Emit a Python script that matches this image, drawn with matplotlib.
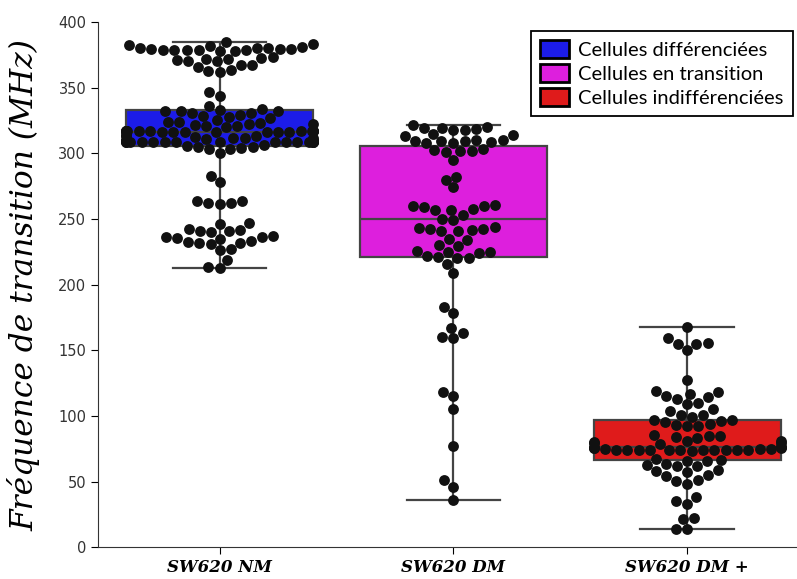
import numpy as np
import pandas as pd
import matplotlib
matplotlib.use("Agg")
import matplotlib.pyplot as plt
import seaborn as sns
from matplotlib.patches import Patch

# values (MHz)
nm_values = [385, 383, 382, 382.5, 381,
             379.5, 379, 378.5, 380, 378, 379, 380, 378.5, 379.5, 380.5, 379, 379.8, 378.2,
             373, 372, 371.5, 371, 370, 372.5, 370.5,
             367, 366, 367.5, 363, 362, 363.5,
             347, 344, 336,
             333, 332, 333.5, 331, 332.5, 330.5, 332,
             328, 327, 329, 328.5,
             325, 324, 323.5, 323, 322.5, 322, 321.5, 321, 320.5, 320,
             317, 316.8, 316.5, 316.6, 316.9, 316.4, 316.7, 317.2, 316.3, 316.8,
             316.5, 317.1, 316.2, 316.6, 316.9, 316.4, 316.7, 316.5, 316.8, 316.6,
             314, 313.5, 313, 312.5, 312, 311.8, 311.5, 311, 310.5, 310.2,
             309, 308.8, 308.6, 308.9, 309.2, 308.7, 308.5, 308.9, 309.1, 308.6,
             308.8, 308.4, 309.3, 308.7, 308.9, 308.5, 309, 308.6, 308.8, 308.7,
             306, 305.5, 305, 304.5, 304, 303.5, 303,
             300, 283, 278,
             264, 262, 261, 262.5, 263.5, 247, 246,
             241, 240, 241.5, 240.5, 242, 236, 236.5, 235, 237, 235.5,
             232, 231, 232.5, 231.5, 233,
             227, 226, 219, 213, 213.5]

dm_values = [321.5, 319, 318.5, 319.5, 320, 318, 317.5,
             314, 313.5, 314.5, 309, 308.5, 309.5, 310, 308, 307.5, 310.5, 309.2,
             302, 301.5, 302.5, 301, 303, 295, 282, 280, 274,
             260, 259.5, 260.5, 259, 257, 256.5, 257.5, 253, 250, 249,
             243, 242.5, 243.5, 242, 241, 240.5, 241.5, 235, 234, 230, 229.5,
             225, 224.5, 225.5, 224, 221, 220.5, 221.5, 220,
             216, 209, 183, 178, 167, 163, 160, 159, 118, 115, 105, 77, 51, 46, 36]

dmp_values = [168, 159, 155, 154.5, 155.5, 150, 127,
              119, 118, 117, 115, 114, 113, 110, 109, 105, 104,
              101, 100.5, 99.5, 97, 96.5, 96, 95.5, 93, 92.5, 93.5, 92,
              85, 84.5, 85.5, 84, 83.5, 80, 79.5, 80.5, 79, 81, 78.5,
              76, 75.5, 76.5, 75, 74.5, 75.8, 74.8, 75.2, 76.2, 74.2,
              74, 73.8, 74.1, 73.9, 74.2, 73.7, 74, 73.8, 74.3, 73.6, 74.1,
              67, 66, 65.5, 66.5, 63, 62, 61.5, 62.5,
              58, 57.5, 58.5, 55, 54.5, 51, 50.5, 48, 38, 35, 33, 22, 21.5, 14, 13.8]

groups = ["SW620 NM", "SW620 DM", "SW620 DM +"]
legend_labels = ["Cellules différenciées", "Cellules en transition", "Cellules indifférenciées"]
colors = ["#1c1ce8", "#dd1fdd", "#df1b1b"]

df = pd.DataFrame({
    "groupe": [groups[0]] * len(nm_values) + [groups[1]] * len(dm_values) + [groups[2]] * len(dmp_values),
    "freq": nm_values + dm_values + dmp_values,
})

fig = plt.figure(figsize=(7.97, 5.79), dpi=100)
ax = fig.add_axes([0.123, 0.055, 0.877, 0.907])

sns.boxplot(data=df, x="groupe", y="freq", hue="groupe", palette=colors, order=groups,
            saturation=1, width=0.8, whis=np.inf, linewidth=1.6, linecolor="#444444",
            showfliers=False, legend=False, ax=ax)
sns.swarmplot(data=df, x="groupe", y="freq", order=groups, color="#111111", size=7.8, ax=ax)

ax.set_ylim(0, 400)
ax.set_xlim(-0.52, 2.47)
ax.set_yticks(np.arange(0, 401, 50))
ax.tick_params(axis="y", labelsize=10.5, labelcolor="#333333", length=5)
ax.tick_params(axis="x", length=5)
ax.set_xticks(range(3))
ax.set_xticklabels(groups, fontfamily="DejaVu Serif", fontstyle="italic", fontweight="bold", fontsize=12)
ax.set_xlabel("")
ax.set_ylabel("Fréquence de transition (MHz)", fontfamily="DejaVu Serif", fontstyle="italic",
              fontsize=22.5, labelpad=13)
for s in ["top", "right"]:
    ax.spines[s].set_visible(False)
for s in ["left", "bottom"]:
    ax.spines[s].set_color("#333333")

handles = [Patch(facecolor=c, edgecolor="black", linewidth=2) for c in colors]
leg = ax.legend(handles, legend_labels, loc="upper right", bbox_to_anchor=(0.994, 0.983),
                borderaxespad=0, fancybox=False, edgecolor="black", framealpha=1,
                prop={"family": "Lato", "size": 14.5}, handlelength=1.45, handleheight=1.0,
                borderpad=0.45, labelspacing=0.25, handletextpad=0.45)
leg.get_frame().set_linewidth(1.3)

fig.savefig("out.png", dpi=100)
